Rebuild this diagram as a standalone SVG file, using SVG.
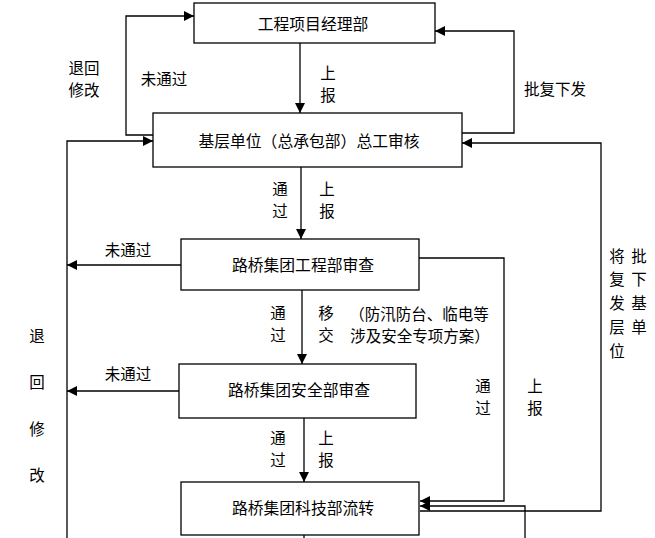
<svg xmlns="http://www.w3.org/2000/svg" width="655" height="538" viewBox="0 0 655 538">
<defs>
<marker id="ah" viewBox="0 0 10 10" refX="10" refY="5" markerWidth="10" markerHeight="10" markerUnits="userSpaceOnUse" orient="auto">
<path d="M0,0 L10,5 L0,10 z" fill="#000"/>
</marker>
<style>
.box{fill:#fff;stroke:#000;stroke-width:1.3}
.bt{font-family:"Noto Sans CJK SC","Noto Sans",sans-serif;font-size:15.8px;fill:#000;text-anchor:middle;dominant-baseline:central}
.lb{font-family:"Noto Sans CJK SC","Noto Sans",sans-serif;font-size:15.5px;fill:#000;text-anchor:middle;dominant-baseline:central}
.ln{fill:none;stroke:#000;stroke-width:1.3}
.ar{fill:none;stroke:#000;stroke-width:1.3;marker-end:url(#ah)}
</style>
</defs>
<rect width="655" height="538" fill="#fff"/>
<g id="connectors">
<path class="ar" d="M300,43 V113"/>
<path class="ar" d="M301,167 V239"/>
<path class="ar" d="M302,290 V364"/>
<path class="ar" d="M304,418 V482"/>
<path class="ln" d="M304,535 V538"/>
<path class="ar" d="M153,135 H126 V16 H194"/>
<path class="ar" d="M462,133 H514 V31 H435"/>
<path class="ar" d="M67,538 V141 H153"/>
<path class="ar" d="M181,265 H67"/>
<path class="ar" d="M179,391 H67"/>
<path class="ar" d="M419,258 H504 V501 H420"/>
<path class="ar" d="M525,538 V506 H420"/>
<path class="ar" d="M420,511 H601 V143 H462"/>
</g>
<g id="n1"><rect class="box" x="194" y="3" width="241" height="40"/><text class="bt" x="313" y="23">工程项目经理部</text></g>
<g id="n2"><rect class="box" x="153" y="113" width="309" height="54"/><text class="bt" x="309" y="140">基层单位（总承包部）总工审核</text></g>
<g id="n3"><rect class="box" x="181" y="239" width="238" height="51"/><text class="bt" x="303" y="264">路桥集团工程部审查</text></g>
<g id="n4"><rect class="box" x="179" y="364" width="237" height="54"/><text class="bt" x="299" y="389">路桥集团安全部审查</text></g>
<g id="n5"><rect class="box" x="181" y="482" width="238" height="53"/><text class="bt" x="303" y="507">路桥集团科技部流转</text></g>
<g id="labels">
<text class="lb" x="84" y="67">退回</text>
<text class="lb" x="84" y="89">修改</text>
<text class="lb" x="164" y="78">未通过</text>
<text class="lb" x="328" y="72">上</text>
<text class="lb" x="328" y="94">报</text>
<text class="lb" x="555" y="88">批复下发</text>
<text class="lb" x="280" y="188">通</text>
<text class="lb" x="280" y="210">过</text>
<text class="lb" x="327" y="188">上</text>
<text class="lb" x="327" y="210">报</text>
<text class="lb" x="128" y="249">未通过</text>
<text class="lb" x="617" y="255">将</text>
<text class="lb" x="617" y="278">复</text>
<text class="lb" x="617" y="302">发</text>
<text class="lb" x="617" y="326">层</text>
<text class="lb" x="617" y="350">位</text>
<text class="lb" x="639" y="255">批</text>
<text class="lb" x="639" y="278">下</text>
<text class="lb" x="639" y="302">基</text>
<text class="lb" x="639" y="326">单</text>
<text class="lb" x="278" y="312">通</text>
<text class="lb" x="278" y="334">过</text>
<text class="lb" x="326" y="312">移</text>
<text class="lb" x="326" y="334">交</text>
<text class="lb" x="419" y="313">（防汛防台、临电等</text>
<text class="lb" x="420" y="335">涉及安全专项方案）</text>
<text class="lb" x="37" y="335">退</text>
<text class="lb" x="37" y="381">回</text>
<text class="lb" x="37" y="428">修</text>
<text class="lb" x="37" y="474">改</text>
<text class="lb" x="128" y="373">未通过</text>
<text class="lb" x="483" y="385">通</text>
<text class="lb" x="483" y="407">过</text>
<text class="lb" x="535" y="385">上</text>
<text class="lb" x="535" y="407">报</text>
<text class="lb" x="278" y="437">通</text>
<text class="lb" x="278" y="459">过</text>
<text class="lb" x="326" y="437">上</text>
<text class="lb" x="326" y="459">报</text>
</g>
</svg>
